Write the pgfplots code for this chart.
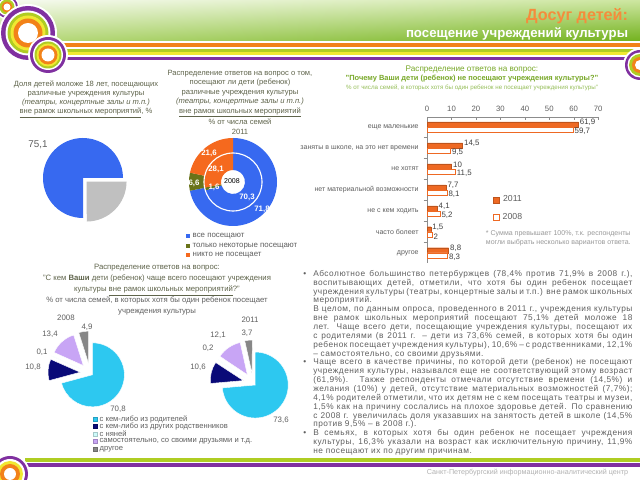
\documentclass[border=0pt]{standalone}
\usepackage{fontspec}
\setmainfont{Liberation Sans}
\usepackage{pgfplots}
\pgfplotsset{compat=1.18}
\usetikzlibrary{shadings}

\definecolor{cPurple}{RGB}{128,48,160}
\definecolor{cLime}{RGB}{175,205,35}
\definecolor{cYellow}{RGB}{240,232,50}
\definecolor{cOrange}{RGB}{242,130,25}
\definecolor{hUL}{RGB}{246,250,240}
\definecolor{hUR}{RGB}{205,230,160}
\definecolor{hLL}{RGB}{185,218,125}
\definecolor{hLR}{RGB}{115,178,30}
\definecolor{titleOrange}{RGB}{245,140,60}
\definecolor{txtOlive}{RGB}{95,100,75}
\definecolor{txtGray}{RGB}{95,95,95}
\definecolor{ttlGreen}{RGB}{120,168,40}
\definecolor{ttlGreenL}{RGB}{150,190,90}
\definecolor{pBlue}{RGB}{55,105,240}
\definecolor{pGray}{RGB}{192,192,192}
\definecolor{pOlive}{RGB}{105,115,25}
\definecolor{pOrange}{RGB}{245,105,30}
\definecolor{qBlue}{RGB}{45,200,240}
\definecolor{qNavy}{RGB}{10,10,120}
\definecolor{qLight}{RGB}{205,250,250}
\definecolor{qLav}{RGB}{200,165,245}
\definecolor{qGray}{RGB}{135,135,135}
\definecolor{barOrange}{RGB}{238,105,35}
\definecolor{axGray}{RGB}{140,140,140}

\newcommand\fs[2]{\fontsize{#1}{#2}\selectfont}

% pie / ring slices, clockwise from the start angle
% #1 cx, #2 cy, #3 r in, #4 r out, #5 start angle, #6 style, #7 {value/colour/explode}
\newcommand\slices[7]{%
  \gdef\cum{#5}%
  \foreach \v/\col/\ex in {#7} {%
    \pgfmathsetmacro\sa{\cum}%
    \pgfmathsetmacro\sb{\cum-3.6*\v}%
    \pgfmathsetmacro\sm{(\sa+\sb)/2}%
    \fill[\col, #6, shift={(#1,#2)}, shift={(\sm:\ex)}]
      (\sa:#4) arc[start angle=\sa, end angle=\sb, radius=#4]
      -- (\sb:#3) arc[start angle=\sb, end angle=\sa, radius=#3] -- cycle;
    \xdef\cum{\sb}%
  }%
}
% decorative rings
\newcommand\rings[3]{\foreach \r/\col in {#3} {\fill[\col] (#1,#2) circle[radius=\r];}}

\begin{document}
\begin{tikzpicture}[x=0.025cm, y=0.025cm]
\path[use as bounding box] (0,0) rectangle (640,480);
\fill[white] (0,0) rectangle (640,480);

% header band and stripes
\shade[upper left=hUL, upper right=hUR, lower left=hLL, lower right=hLR] (0,439) rectangle (640,480);
\fill[cOrange] (40,432.5) rectangle (640,437);
\fill[cLime] (40,427.5) rectangle (640,430.5);
\fill[cYellow] (40,425) rectangle (640,427.5);
\fill[cPurple] (40,419.5) rectangle (640,423);
\rings{7}{473}{12.5/white, 11/cPurple, 9/white, 7.5/cLime, 5.5/cOrange, 3.5/white}
\rings{28}{447}{29/white, 27/cPurple, 22.5/white, 20.5/cLime, 17.5/cYellow, 14.5/cOrange, 10/white}
\rings{48}{425}{20/white, 18/cPurple, 15/white, 13.5/cLime, 11.5/cYellow, 9.5/cOrange, 6.5/white}
\rings{640}{415}{17/white, 15/cPurple, 12.5/white, 11/cLime, 8/cOrange, 5/white}
\node[anchor=east, text=titleOrange, font=\bfseries\fs{11.5}{13}] at (633,464) {Досуг детей:};
\node[anchor=east, text=white, font=\bfseries\fs{9.4}{11}] at (633,446) {посещение учреждений культуры};

% footer
\fill[cLime] (25,18) rectangle (640,22);
\fill[cPurple] (25,13) rectangle (640,16.5);
\rings{10}{6}{20/white, 18/cPurple, 15/white, 13/cYellow, 10/cOrange, 6/white}
\node[anchor=east, text=black!30, font=\fs{5.1}{6}] at (633,7) {Санкт-Петербургский информационно-аналитический центр};

% left pie: share of children
\node[anchor=north, align=center, text=txtOlive, font=\fs{5.4}{6.4}] at (86,404)
  {Доля детей моложе 18 лет, посещающих\\ различные учреждения культуры\\
   \textit{(театры, концертные залы и т.п.)}\\ \underline{вне рамок школьных мероприятий}, \%};
\slices{83}{302}{0.01}{40}{0}{}{24.9/pGray/5, 75.1/pBlue/0}
\node[text=txtGray, font=\fs{7}{8}] at (38,335) {75,1};

% middle donut: 2011 outer, 2008 inner
\node[anchor=north, align=center, text=txtOlive, font=\fs{5.4}{6.75}] at (240,415)
  {Распределение ответов на вопрос о том,\\ посещают ли дети (ребенок)\\ различные учреждения культуры\\
   \textit{(театры, концертные залы и т.п.)}\\ \underline{вне рамок школьных мероприятий}\\ \% от числа семей\\ 2011};
\slices{233}{298}{29}{44}{90}{}{71.8/pBlue/0, 6.6/pOlive/0, 21.6/pOrange/0}
\slices{233}{298}{12}{29}{90}{}{70.3/pBlue/0, 1.6/pOlive/0, 28.1/pOrange/0}
\draw[white, line width=0.8pt] (233,298) circle[radius=29];
\begin{scope}[text=white, font=\bfseries\fs{5.6}{6}]
\node at (209,327) {21,6};
\node at (216,311) {28,1};
\node at (194,297) {6,6};
\node at (214,293) {1,6};
\node at (247,283) {70,3};
\node at (262,271) {71,8};
\end{scope}
\node[font=\fs{5}{6}] at (232,299) {2008};
\foreach \yy/\col/\t in {244/pBlue/все посещают, 234/pOlive/только некоторые посещают, 225/pOrange/никто не посещает} {
  \fill[\col] (186,{\yy-2.2}) rectangle ++(4.4,4.4);
  \node[anchor=west, text=txtGray, font=\fs{5.6}{6}, inner sep=1pt] at (191,\yy) {\t};
}

% bar chart: reasons for not visiting
\node[anchor=north, align=center, inner sep=0pt, font=\fs{5.6}{6.4}] at (472,414)
  {{\color{ttlGreen}\fs{5.8}{6.4}Распределение ответов на вопрос:}\\
   {\color{ttlGreen}\bfseries\fs{5.3}{6.4}"Почему Ваши дети (ребенок) не посещают учреждения культуры?"}\\
   {\color{ttlGreenL}\fs{4.4}{6.4}\% от числа семей, в которых хотя бы один ребенок не посещает учреждения культуры"}};
\begin{axis}[
  at={(10.675cm,9.075cm)}, anchor=north west,
  scale only axis, width=4.275cm, height=3.65cm,
  xbar, bar width=0.24,
  xmin=0, xmax=70, xtick={0,10,...,70},
  ymin=-0.48, ymax=6.48, ytick={0,...,6},
  yticklabels={другое, часто болеет, не с кем ходить, нет материальной возможности,
    не хотят, {заняты в школе, на это нет времени}, еще маленькие},
  axis x line*=top, axis y line*=left,
  axis line style={draw=axGray, line width=0.5pt, -},
  xtick align=inside, ytick align=outside,
  major tick length=2.5pt, minor tick length=2.5pt,
  major x tick style={draw=axGray},
  major y tick style={draw=none},
  minor ytick={0.5,1.5,...,5.5},
  minor y tick style={draw=axGray},
  x tick label style={font=\fs{5.5}{6}, text=txtGray},
  y tick label style={font=\fs{5}{6}, text=txtGray},
  /pgf/number format/use comma,
  /pgf/number format/assume math mode=true,
  nodes near coords,
  nodes near coords style={font=\fs{5.6}{6}, text=black!75, inner sep=1pt},
  legend style={at={(rel axis cs:0.36,0.5)}, anchor=north west, draw=none, fill=none,
    font=\fs{6.2}{7}, text=txtGray, row sep=2.5pt},
  legend image code/.code={\draw[#1] (0pt,-2.2pt) rectangle (4.4pt,2.2pt);},
]
\addplot[fill=barOrange, draw=barOrange!80!black, line width=0.3pt, bar shift=0.125,
  every node near coord/.append style={yshift=1.3pt}]
  coordinates {(61.9,6) (14.5,5) (10,4) (7.7,3) (4.1,2) (1.5,1) (8.8,0)};
\addplot[fill=white, draw=barOrange, line width=0.4pt, bar shift=-0.125,
  every node near coord/.append style={yshift=-1.3pt}]
  coordinates {(59.7,6) (9.5,5) (11.5,4) (8.1,3) (5.2,2) (2,1) (8.3,0)};
\legend{2011, 2008}
\end{axis}
\node[anchor=north west, align=left, text=black!40, font=\fs{5}{6.2}] at (481,254)
  {* Сумма превышает 100\%, т.к. респонденты\\ могли выбрать несколько вариантов ответа.};

% bottom pies: with whom children visit
\node[anchor=north, align=center, inner sep=0pt, font=\fs{5.5}{7.8}] at (157,216)
  {{\color{txtOlive}Распределение ответов на вопрос:}\\
   {\color{txtOlive}"С кем \textbf{Ваши} дети (ребенок) чаще всего посещают учреждения}\\
   {\color{txtOlive}культуры \underline{вне рамок школьных мероприятий}?"}\\
   {\color{txtGray}\% от числа семей, в которых хотя бы один ребенок посещает}\\
   {\color{txtGray}учреждения культуры}};
\slices{90}{107}{0.01}{32}{90}{draw=white, line width=0.3pt}
  {70.8/qBlue/3, 10.8/qNavy/10, 0.1/qLight/10, 13.4/qLav/10, 4.9/qGray/10}
\slices{253}{97}{0.01}{33}{90}{draw=white, line width=0.3pt}
  {73.6/qBlue/3, 10.6/qNavy/10, 0.2/qLight/10, 12.1/qLav/10, 3.7/qGray/10}
\begin{scope}[text=txtGray, font=\fs{5.6}{6}]
\node at (66,162) {2008};
\node at (87,153) {4,9};
\node at (50,146) {13,4};
\node at (42,128) {0,1};
\node at (33,113) {10,8};
\node at (118,71) {70,8};
\node at (250,160) {2011};
\node at (247,147) {3,7};
\node at (218,145) {12,1};
\node at (208,132) {0,2};
\node at (198,113) {10,6};
\node at (281,60) {73,6};
\end{scope}
\foreach \yy/\col/\t in {61/qBlue/с кем-либо из родителей, 53.5/qNavy/с кем-либо из других родственников,
    46/qLight/с няней, 38.5/qLav/{самостоятельно, со своими друзьями и т.д.}, 31/qGray/другое} {
  \filldraw[fill=\col, draw=\col!80!black, line width=0.2pt] (93,{\yy-2}) rectangle ++(4,4);
  \node[anchor=west, text=txtGray, font=\fs{5.4}{6}, inner sep=1pt] at (98,\yy) {\t};
}

% commentary
\node[anchor=north west, inner sep=0pt, text=txtGray] at (297,210) {%
\begin{minipage}{8.375cm}
\fs{5.9}{6.25}\addfontfeatures{LetterSpace=6}\setlength\baselineskip{6.3pt}%
\emergencystretch=3em\tolerance=9999\hbadness=10000
\begin{list}{\textbullet}{\setlength\leftmargin{11.4pt}\setlength\labelsep{5pt}%
  \setlength\labelwidth{6pt}\setlength\itemsep{0pt}\setlength\topsep{0pt}%
  \setlength\parsep{0pt}\setlength\partopsep{0pt}}
\item Абсолютное большинство петербуржцев (78,4\% против 71,9\% в 2008 г.), воспитывающих детей, отметили, что хотя бы один ребенок посещает учреждения культуры (театры, концертные залы и т.п.) вне рамок школьных мероприятий.\par
В целом, по данным опроса, проведенного в 2011 г., учреждения культуры вне рамок школьных мероприятий посещают 75,1\% детей моложе 18 лет. Чаще всего дети, посещающие учреждения культуры, посещают их с родителями (в 2011 г. – дети из 73,6\% семей, в которых хотя бы один ребенок посещает учреждения культуры), 10,6\% – с родственниками, 12,1\% – самостоятельно, со своими друзьями.
\item Чаще всего в качестве причины, по которой дети (ребенок) не посещают учреждения культуры, назывался еще не соответствующий этому возраст (61,9\%). Также респонденты отмечали отсутствие времени (14,5\%) и желания (10\%) у детей, отсутствие материальных возможностей (7,7\%); 4,1\% родителей отметили, что их детям не с кем посещать театры и музеи, 1,5\% как на причину сослались на плохое здоровье детей. По сравнению с 2008 г. увеличилась доля указавших на занятость детей в школе (14,5\% против 9,5\% – в 2008 г.).
\item В семьях, в которых хотя бы один ребенок не посещает учреждения культуры, 16,3\% указали на возраст как исключительную причину, 11,9\% не посещают их по другим причинам.
\end{list}
\end{minipage}};
\end{tikzpicture}
\end{document}
